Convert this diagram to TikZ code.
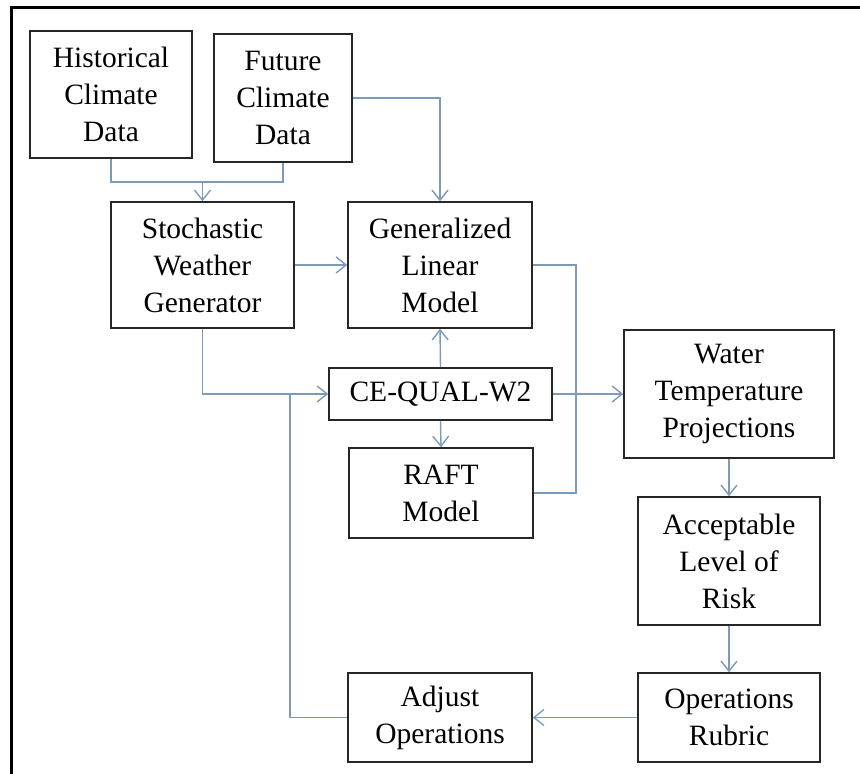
\documentclass[tikz,border=0pt]{standalone}
\usepackage{fontspec}
\setmainfont{Liberation Serif}
\usetikzlibrary{arrows.meta}
\definecolor{linkblue}{RGB}{125,155,185}
\begin{document}
\begin{tikzpicture}[x=1pt, y=-1pt,
	box/.style={draw=black!85, line width=1.6pt, align=center, inner sep=0pt,
		font=\fontsize{29.5}{37}\selectfont},
	link/.style={draw=linkblue, line width=1.4pt},
	arr/.style={link, -{Straight Barb[length=10pt, width=16pt, line width=1.4pt]}}]
	\useasboundingbox (0,0) rectangle (860,774);
	\draw[line width=2.2pt] (11.5,774) -- (11.5,7.5) -- (860,7.5);
	% boxes
	\node[box, minimum width=162pt, minimum height=127pt] (hist) at (111,94.5) {Historical\\Climate\\Data};
	\node[box, minimum width=138pt, minimum height=128pt] (fut) at (283,98) {Future\\Climate\\Data};
	\node[box, minimum width=183pt, minimum height=126pt] (swg) at (202.5,265) {Stochastic\\Weather\\Generator};
	\node[box, minimum width=184pt, minimum height=126pt] (glm) at (440,265) {Generalized\\Linear\\Model};
	\node[box, minimum width=223pt, minimum height=52pt] (ceq) at (440.5,394) {CE-QUAL-W2};
	\node[box, minimum width=184pt, minimum height=90pt] (raft) at (441,493) {RAFT\\Model};
	\node[box, minimum width=210pt, minimum height=128pt] (wtp) at (729,394) {Water\\Temperature\\Projections};
	\node[box, minimum width=182pt, minimum height=128pt] (alr) at (729,561) {Acceptable\\Level of\\Risk};
	\node[box, minimum width=182pt, minimum height=89pt] (opr) at (729,717.5) {Operations\\Rubric};
	\node[box, minimum width=184pt, minimum height=89pt] (adj) at (440,717.5) {Adjust\\Operations};
	% connectors
	\coordinate (merge) at (202.5,182);
	\coordinate (back) at (290,0);
	\coordinate (bus) at (576,0);
	\draw[link] (hist.south) -- (hist.south |- merge) -- (fut.south |- merge) -- (fut.south);
	\draw[arr] (merge) -- (swg.north);
	\draw[arr] (fut.east) -| (glm.north);
	\draw[arr] (swg.east) -- (glm.west);
	\draw[arr] (swg.south) |- (ceq.west);
	\draw[link] (adj.west) -| (back |- ceq.west);
	\draw[arr] (ceq.north) -- (glm.south);
	\draw[arr] (ceq.south) -- (raft.north);
	\draw[link] (glm.east) -| (bus |- raft.east) -- (raft.east);
	\draw[arr] (ceq.east) -- (wtp.west);
	\draw[arr] (wtp.south) -- (alr.north);
	\draw[arr] (alr.south) -- (opr.north);
	\draw[arr] (opr.west) -- (adj.east);
\end{tikzpicture}
\end{document}
